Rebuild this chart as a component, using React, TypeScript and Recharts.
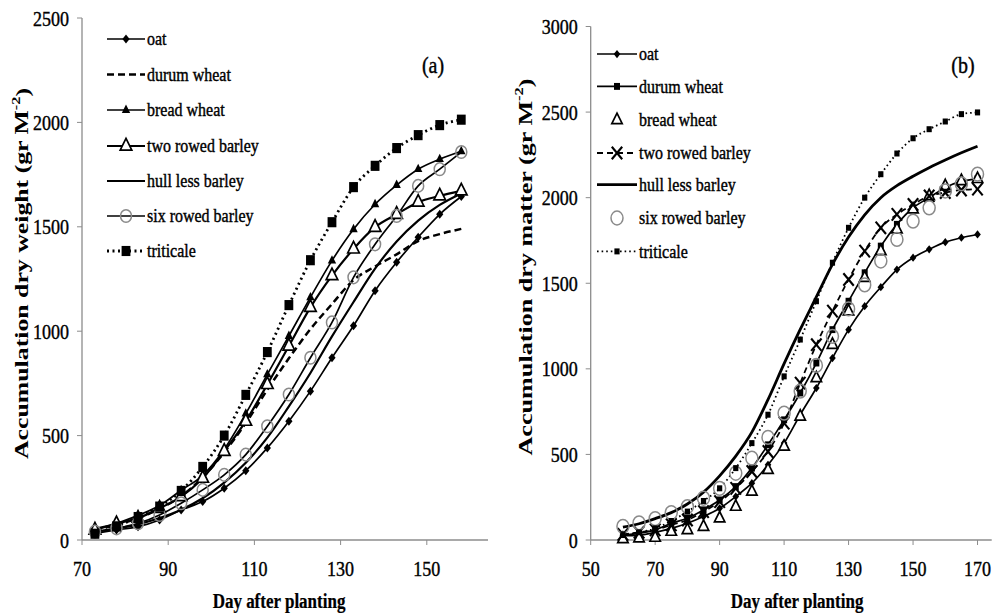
import React from 'react';
import { LineChart, Line, XAxis, YAxis } from 'recharts';

// ---------- Data: panel (a) ----------
const daysA = [73, 78, 83, 88, 93, 98, 103, 108, 113, 118, 123, 128, 133, 138, 143, 148, 153, 158];
const oatA = [32, 48, 64, 96, 144, 184, 248, 332, 441, 569, 713, 873, 1026, 1194, 1330, 1450, 1560, 1645];
const durumA = [50, 72, 105, 150, 210, 300, 420, 560, 720, 870, 1010, 1130, 1245, 1310, 1368, 1432, 1465, 1490];
const breadA = [55, 80, 118, 165, 238, 310, 435, 605, 793, 977, 1162, 1338, 1488, 1608, 1700, 1776, 1824, 1862];
const twoRowA = [48, 78, 105, 152, 208, 296, 425, 569, 745, 929, 1114, 1266, 1394, 1498, 1560, 1618, 1648, 1672];
const hullA = [40, 55, 75, 105, 145, 200, 275, 370, 490, 640, 800, 975, 1140, 1300, 1430, 1530, 1605, 1660];
const sixRowA = [40, 56, 80, 120, 176, 240, 312, 409, 545, 697, 873, 1042, 1258, 1416, 1552, 1696, 1776, 1858];
const triticaleA = [30, 65, 110, 160, 235, 350, 500, 695, 900, 1125, 1340, 1522, 1690, 1792, 1877, 1939, 1987, 2013];
const xTicksA = [70, 90, 110, 130, 150];
const yTicksA = [0, 500, 1000, 1500, 2000, 2500];

// ---------- Data: panel (b) ----------
const daysB = [60, 65, 70, 75, 80, 85, 90, 95, 100, 105, 110, 115, 120, 125, 130, 135, 140, 145, 150, 155, 160, 165, 170];
const oatB = [25, 29, 45, 68, 98, 137, 185, 254, 332, 439, 566, 732, 888, 1063, 1229, 1366, 1477, 1580, 1649, 1698, 1740, 1766, 1785];
const durumB = [29, 39, 59, 98, 127, 176, 234, 312, 420, 556, 702, 859, 1034, 1229, 1395, 1561, 1717, 1844, 1941, 2000, 2060, 2095, 2110];
const breadB = [6, 10, 14, 49, 59, 78, 127, 195, 283, 410, 546, 722, 946, 1141, 1337, 1532, 1688, 1815, 1932, 2010, 2068, 2098, 2110];
const twoRowB = [33, 45, 59, 88, 117, 166, 224, 302, 400, 517, 683, 917, 1141, 1337, 1522, 1688, 1824, 1902, 1960, 2010, 2030, 2045, 2050];
const hullB = [75, 95, 125, 160, 210, 280, 375, 490, 630, 820, 1030, 1230, 1420, 1610, 1770, 1900, 2000, 2070, 2125, 2175, 2220, 2262, 2300];
const sixRowB = [80, 100, 125, 160, 195, 244, 302, 390, 478, 599, 741, 870, 1020, 1190, 1350, 1490, 1630, 1756, 1863, 1941, 2039, 2080, 2137];
const triticaleB = [29, 45, 68, 111, 166, 228, 302, 420, 566, 732, 956, 1171, 1395, 1620, 1824, 2000, 2137, 2258, 2347, 2400, 2445, 2488, 2498];
const xTicksB = [50, 70, 90, 110, 130, 150, 170];
const yTicksB = [0, 500, 1000, 1500, 2000, 2500, 3000];

const seriesNames = ['oat', 'durum wheat', 'bread wheat', 'two rowed barley', 'hull less barley', 'six rowed barley', 'triticale'];
const seriesKeys = ['oat', 'durum', 'bread', 'twoRow', 'hull', 'sixRow', 'triticale'];

const rowsA = daysA.map((d, i) => ({
  day: d, oat: oatA[i], durum: durumA[i], bread: breadA[i], twoRow: twoRowA[i],
  hull: hullA[i], sixRow: sixRowA[i], triticale: triticaleA[i],
}));
const rowsB = daysB.map((d, i) => ({
  day: d, oat: oatB[i], durum: durumB[i], bread: breadB[i], twoRow: twoRowB[i],
  hull: hullB[i], sixRow: sixRowB[i], triticale: triticaleB[i],
}));

// ---------- Styles ----------
const FONT = "'Liberation Serif','Times New Roman',serif";
const SY = 1.18;
const AXIS = '#8c8c8c';

type Kind = 'none' | 'diamond' | 'tri' | 'triOpen' | 'square' | 'circle' | 'x';
interface SeriesStyle { marker: Kind; size: number; width: number; dash?: string; line: boolean }

const styleA: SeriesStyle[] = [
  { marker: 'diamond', size: 3.6, width: 1.7, line: true },
  { marker: 'none', size: 0, width: 2.5, dash: '7 4', line: true },
  { marker: 'tri', size: 4.2, width: 1.7, line: true },
  { marker: 'triOpen', size: 5.8, width: 2.2, line: true },
  { marker: 'none', size: 0, width: 2.2, line: true },
  { marker: 'circle', size: 5.5, width: 1.7, line: true },
  { marker: 'square', size: 4.4, width: 2.8, dash: '2 3.5', line: true },
];
const styleB: SeriesStyle[] = [
  { marker: 'diamond', size: 3.3, width: 1.7, line: true },
  { marker: 'square', size: 3, width: 1.7, line: true },
  { marker: 'triOpen', size: 5.2, width: 0, line: false },
  { marker: 'x', size: 5.2, width: 1.8, dash: '6 4', line: true },
  { marker: 'none', size: 0, width: 2.8, line: true },
  { marker: 'circle', size: 6, width: 0, line: false },
  { marker: 'square', size: 2.6, width: 1.8, dash: '1.6 3', line: true },
];

function Marker({ kind, cx, cy, s }: { kind: Kind; cx: number; cy: number; s: number }) {
  if (cx == null || cy == null || isNaN(cx) || isNaN(cy)) return null;
  switch (kind) {
    case 'diamond':
      return <polygon points={`${cx},${cy - s * 1.25} ${cx + s},${cy} ${cx},${cy + s * 1.25} ${cx - s},${cy}`} fill="#000" />;
    case 'tri':
      return <polygon points={`${cx},${cy - s * 1.3} ${cx + s},${cy + s * 0.7} ${cx - s},${cy + s * 0.7}`} fill="#000" />;
    case 'triOpen':
      return <polygon points={`${cx},${cy - s * 1.3} ${cx + s},${cy + s * 0.7} ${cx - s},${cy + s * 0.7}`} fill="#fff" stroke="#000" strokeWidth={1.7} />;
    case 'square':
      return <rect x={cx - s} y={cy - s * 1.15} width={2 * s} height={2.3 * s} fill="#000" />;
    case 'circle':
      return <ellipse cx={cx} cy={cy} rx={s} ry={s * 1.15} fill="none" stroke="#8a8a8a" strokeWidth={1.5} />;
    case 'x':
      return (
        <g stroke="#000" strokeWidth={2.1}>
          <line x1={cx - s} y1={cy - s * 1.2} x2={cx + s} y2={cy + s * 1.2} />
          <line x1={cx - s} y1={cy + s * 1.2} x2={cx + s} y2={cy - s * 1.2} />
        </g>
      );
    default:
      return null;
  }
}

function SText({ x, y, size, weight, anchor, children }: any) {
  return (
    <text transform={`translate(${x},${y}) scale(1,${SY})`} fontFamily={FONT} fontSize={size}
      fontWeight={weight || 'normal'} textAnchor={anchor || 'start'} dominantBaseline="central" fill="#000"
      stroke="#000" strokeWidth={weight === 'bold' ? 0.2 : 0.35}>
      {children}
    </text>
  );
}

const XTick = (props: any) => {
  const { x, y, payload } = props;
  return (
    <text transform={`translate(${x},${y}) scale(1,${SY})`} textAnchor="middle" dominantBaseline="central"
      dy={18.6} fontFamily={FONT} fontSize={18} fill="#000" stroke="#000" strokeWidth={0.35}>{payload.value}</text>
  );
};
const YTick = (props: any) => {
  const { x, y, payload } = props;
  return (
    <text transform={`translate(${x},${y}) scale(1,${SY})`} textAnchor="end" dominantBaseline="central"
      fontFamily={FONT} fontSize={18} fill="#000" stroke="#000" strokeWidth={0.35}>{payload.value}</text>
  );
};

function renderLines(styles: SeriesStyle[]) {
  return styles.map((st, i) => {
    const key = seriesKeys[i];
    return (
      <Line key={key} dataKey={key} name={seriesNames[i]} type="monotone"
        stroke={st.line ? '#000' : 'none'} strokeWidth={st.line ? st.width : 0}
        strokeDasharray={st.dash} isAnimationActive={false} activeDot={false}
        dot={st.marker === 'none' ? false : (p: any) => (
          <Marker key={`${key}-${p.index}`} kind={st.marker} cx={p.cx} cy={p.cy} s={st.size} />
        )} />
    );
  });
}

function LegendBlock({ x0, x1, tx, ys, styles }: { x0: number; x1: number; tx: number; ys: number[]; styles: SeriesStyle[] }) {
  return (
    <g>
      {styles.map((st, i) => (
        <g key={i}>
          {st.line && <line x1={x0} x2={x1} y1={ys[i]} y2={ys[i]} stroke="#000" strokeWidth={st.width} strokeDasharray={st.dash} />}
          {st.marker !== 'none' && <Marker kind={st.marker} cx={(x0 + x1) / 2} cy={ys[i]} s={st.size} />}
          <SText x={tx} y={ys[i]} size={16}>{seriesNames[i]}</SText>
        </g>
      ))}
    </g>
  );
}

export default function App() {
  return (
    <div style={{ position: 'absolute', left: 0, top: 0, width: 994, height: 614, background: '#fff', overflow: 'hidden' }}>
      <div style={{ position: 'absolute', left: 0, top: 0 }}>
        <LineChart width={500} height={614} data={rowsA} margin={{ top: 18, right: 12, bottom: 44, left: 22 }}>
          <XAxis dataKey="day" type="number" domain={[70, 164.2]} ticks={xTicksA} height={30}
            axisLine={{ stroke: AXIS, strokeWidth: 1.3 }} tickLine={{ stroke: AXIS }} tickSize={5} tickMargin={2} tick={<XTick />} />
          <YAxis type="number" domain={[0, 2500]} ticks={yTicksA} width={60}
            axisLine={{ stroke: AXIS, strokeWidth: 1.3 }} tickLine={{ stroke: AXIS }} tickSize={5} tickMargin={8} tick={<YTick />} />
          {renderLines(styleA)}
        </LineChart>
      </div>
      <div style={{ position: 'absolute', left: 500, top: 0 }}>
        <LineChart width={494} height={614} data={rowsB} margin={{ top: 26.5, right: 2.3, bottom: 44, left: 30.7 }}>
          <XAxis dataKey="day" type="number" domain={[50, 174.4]} ticks={xTicksB} height={30}
            axisLine={{ stroke: AXIS, strokeWidth: 1.3 }} tickLine={{ stroke: AXIS }} tickSize={5} tickMargin={2} tick={<XTick />} />
          <YAxis type="number" domain={[0, 3000]} ticks={yTicksB} width={60}
            axisLine={{ stroke: AXIS, strokeWidth: 1.3 }} tickLine={{ stroke: AXIS }} tickSize={5} tickMargin={8} tick={<YTick />} />
          {renderLines(styleB)}
        </LineChart>
      </div>
      <svg width={994} height={614} style={{ position: 'absolute', left: 0, top: 0, pointerEvents: 'none' }}>
        <LegendBlock x0={107} x1={145} tx={147} ys={[39, 74.5, 110, 146, 181, 216, 251]} styles={styleA} />
        <LegendBlock x0={597} x1={637} tx={639} ys={[54, 86.4, 120, 153, 184.6, 218, 251.4]} styles={styleB} />
        <SText x={433} y={65} size={20} anchor="middle">(a)</SText>
        <SText x={963} y={65} size={20} anchor="middle">(b)</SText>
        <SText x={279} y={601} size={17} weight="bold" anchor="middle">Day after planting</SText>
        <SText x={797} y={601} size={17} weight="bold" anchor="middle">Day after planting</SText>
        <text transform="translate(21.5,273.5) rotate(-90)" textAnchor="middle" dominantBaseline="central"
          fontFamily={FONT} fontSize={19} fontWeight="bold" textLength={371} lengthAdjust="spacingAndGlyphs">
          Accumulation dry weight (gr M<tspan dy={-6} fontSize={12}>-2</tspan><tspan dy={6}>)</tspan>
        </text>
        <text transform="translate(525,267) rotate(-90)" textAnchor="middle" dominantBaseline="central"
          fontFamily={FONT} fontSize={19} fontWeight="bold" textLength={377} lengthAdjust="spacingAndGlyphs">
          Accumulation dry matter (gr M<tspan dy={-6} fontSize={12}>-2</tspan><tspan dy={6}>)</tspan>
        </text>
      </svg>
    </div>
  );
}
